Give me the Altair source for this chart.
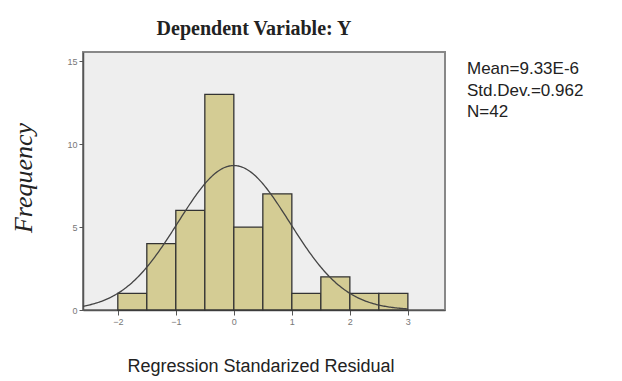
import altair as alt
import pandas as pd

# Histogram data
bin_start = [-2.0, -1.5, -1.0, -0.5, 0.0, 0.5, 1.0, 1.5, 2.0, 2.5]
bin_end = [-1.5, -1.0, -0.5, 0.0, 0.5, 1.0, 1.5, 2.0, 2.5, 3.0]
counts = [1, 4, 6, 13, 5, 7, 1, 2, 1, 1]

# Summary statistics shown in the chart
mean_val = 9.33e-6
sd_val = 0.962
n_val = 42
bin_width = 0.5

x_ticks = [-2, -1, 0, 1, 2, 3]
y_ticks = [0, 5, 10, 15]
legend_lines = ["Mean=9.33E-6", "Std.Dev.=0.962", "N=42"]

W, H = 362, 258

bars_df = pd.DataFrame({"start": bin_start, "end": bin_end, "count": counts})

xscale = alt.Scale(domain=[-2.6, 3.64], nice=False, zero=False)
yscale = alt.Scale(domain=[0, 15.55], nice=False)

xaxis = alt.Axis(values=x_ticks, format="d", title=None, grid=False, labelFontSize=9,
                 labelColor="#777", tickColor="#555", domainColor="#555", domainWidth=1.5,
                 tickSize=5, labelPadding=2, labelFont="Liberation Sans")
yaxis = alt.Axis(values=y_ticks, format="d", title=None, grid=False, labelFontSize=9,
                 labelColor="#777", tickColor="#555", domainColor="#555", domainWidth=1.5,
                 tickSize=4, labelPadding=2, labelFont="Liberation Sans")

bars = alt.Chart(bars_df).mark_bar(fill="#d4cc94", stroke="#333333", strokeWidth=1.3).encode(
    x=alt.X("start:Q", scale=xscale, axis=xaxis),
    x2="end:Q",
    y=alt.Y("count:Q", scale=yscale, axis=yaxis),
    y2=alt.datum(0),
)

curve = alt.Chart(alt.sequence(start=-2.6, stop=3.01, step=0.02, as_="x")).transform_calculate(
    y=f"{n_val}*{bin_width}*exp(-0.5*pow((datum.x-{mean_val})/{sd_val},2))/({sd_val}*sqrt(2*PI))"
).mark_line(color="#444444", strokeWidth=1.3).encode(
    x=alt.X("x:Q", scale=xscale),
    y=alt.Y("y:Q", scale=yscale),
)

base_txt = alt.Chart(pd.DataFrame({"d": [0]}))

title = base_txt.mark_text(text="Dependent Variable: Y", font="Liberation Serif", fontWeight="bold",
                           fontSize=20, color="#222", align="center", baseline="middle").encode(
    x=alt.value(171), y=alt.value(-23))

ytitle = base_txt.mark_text(text="Frequency", font="Liberation Serif", fontStyle="italic",
                            fontSize=26, color="#222", angle=270, align="center",
                            baseline="middle").encode(x=alt.value(-59), y=alt.value(126))

xtitle = base_txt.mark_text(text="Regression Standarized Residual", font="Liberation Sans",
                            fontSize=18, color="#222", align="center", baseline="middle").encode(
    x=alt.value(178), y=alt.value(315))

legend_df = pd.DataFrame({"t": legend_lines, "i": [0, 1, 2]})
legend = alt.Chart(legend_df).transform_calculate(py="17 + datum.i*21.5").mark_text(
    font="Liberation Sans", fontSize=17, color="#222", align="left", baseline="middle"
).encode(x=alt.value(384), y=alt.Y("py:Q", scale=None), text="t:N")

chart = alt.layer(bars, curve, title, ytitle, xtitle, legend).properties(
    width=W, height=H,
    autosize=alt.AutoSizeParams(type="none"),
    padding={"left": 75, "top": 44, "right": 169, "bottom": 71},
    background="white",
).configure_view(fill="#eeeeee", stroke="#888888", strokeWidth=2)

chart.save("out.html", embed_options={"renderer": "svg", "actions": False})
